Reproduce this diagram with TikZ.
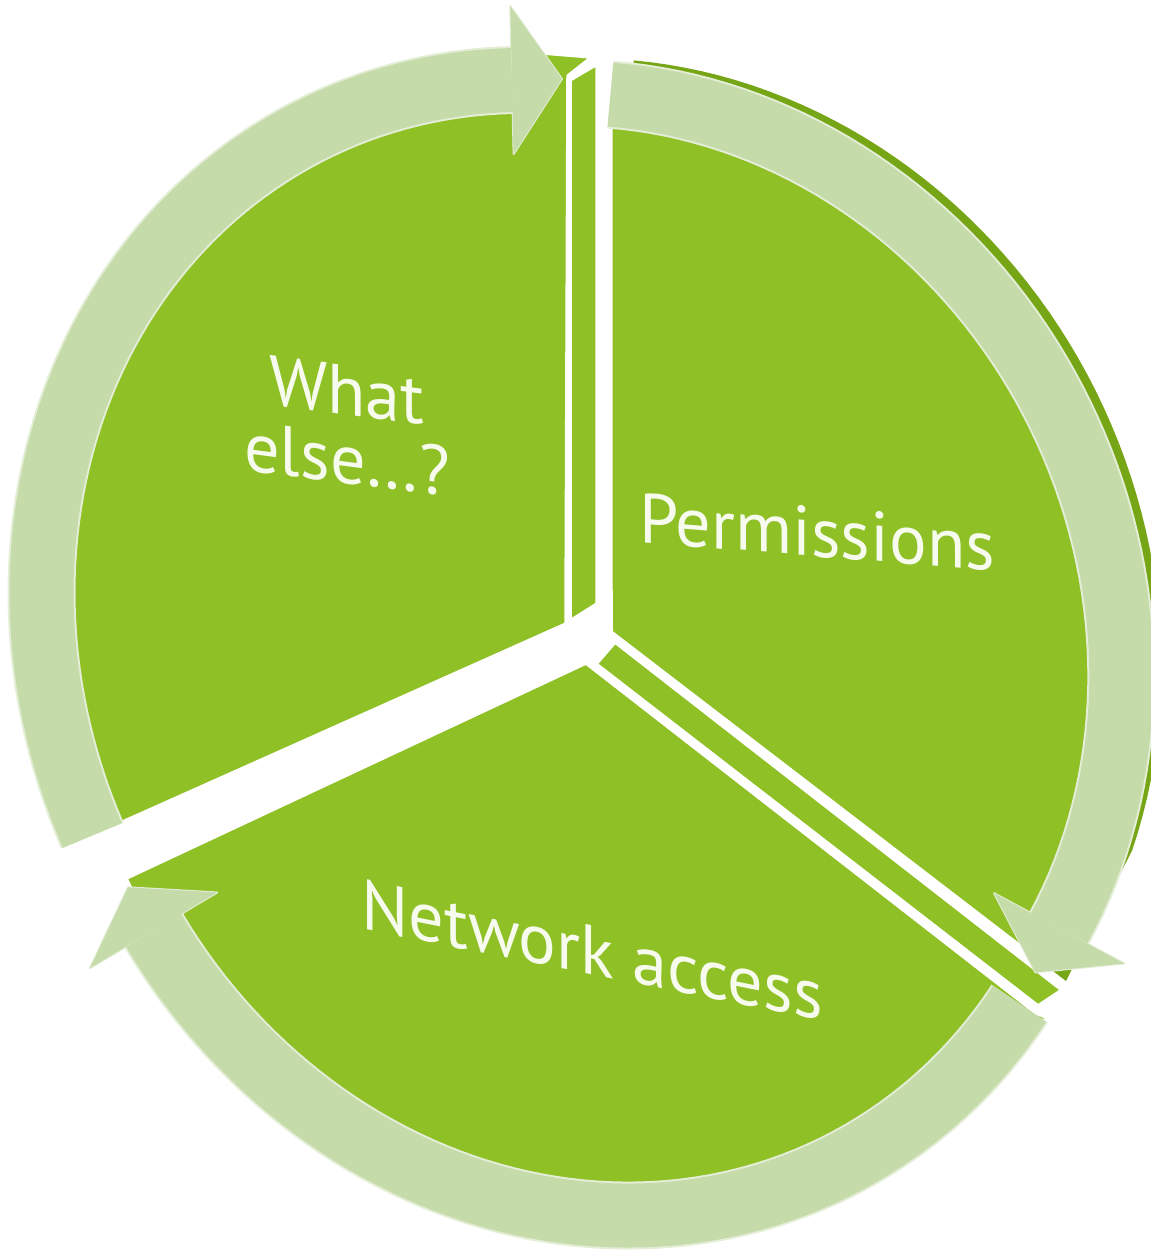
\documentclass[tikz,border=0pt]{standalone}
\usepackage{fontspec}
\setmainfont{PT Sans}
\definecolor{piegreen}{RGB}{143,192,38}
\definecolor{rimgreen}{RGB}{118,166,22}
\definecolor{ringgreen}{RGB}{197,220,170}
\definecolor{ringpale}{RGB}{228,238,215}
\definecolor{labelwhite}{RGB}{247,251,238}
\tikzset{
  slice/.style={fill=piegreen, draw=white, line width=0.07cm, line join=round},
  ring/.style={draw=ringgreen, line width=1.28cm, preaction={draw=ringpale, line width=1.36cm}},
  headdraw/.style={fill=ringgreen, draw=ringpale, line width=0.04cm, line join=round},
  slicetext/.style={text=labelwhite, font=\fontsize{40}{39}\selectfont, align=center, inner sep=0pt}
}
\begin{document}
\begin{tikzpicture}[x=0.02cm, y=-0.02cm,
    declare function={ox(\a)=250.3*cos(\a)-455*sin(\a); oy(\a)=504.3*cos(\a)+225.9*sin(\a);
                      tx(\a)=-2.503*sin(\a)-4.55*cos(\a); ty(\a)=-5.043*sin(\a)+2.259*cos(\a);}]
  \useasboundingbox (0,0) rectangle (1151,1253);
  % slice corners
    \coordinate (W0) at (566,624); % what else
    \coordinate (P0) at (611,632); % permissions
    \coordinate (N0) at (586,663); % network access

  % dark rim of the right slice
  \fill[rimgreen] (P0) -- plot[domain=209:318, samples=60, variable=\t] ({632+1.02*ox(\t)},{622+1.02*oy(\t)})
      -- (1066,981) -- cycle;

  % slices
  \draw[slice] (W0) -- plot[domain=93.4:202.9, samples=60, variable=\t] ({566+1.01*ox(\t)},{638+1.01*oy(\t)})
      -- (530,52) -- (592,57) -- (568,76) -- cycle;
  \draw[slice] (P0) -- plot[domain=208.8:331.5, samples=60, variable=\t] ({611+ox(\t)},{632+oy(\t)}) -- cycle;
  \draw[slice] (N0) -- (1036,1013) -- (1058,1022) -- plot[domain=-26:91.2, samples=60, variable=\t]
      ({586+ox(\t)},{663+oy(\t)}) -- cycle;

  % side faces
  \draw[slice] (570,80) -- (597,64) -- (597,604) -- (570,621) -- cycle;
  \draw[slice] (615,642) -- (1062,990) -- (1038,1006) -- (596,664) -- cycle;

  % cycle arrows
  \foreach \cx/\cy/\s/\ta/\tb in {566/638/1.01/93.4/202.9, 615/632/0.975/208.3/327.5, 586/663/1/-27.8/85.2}{
    \pgfmathsetmacro\ex{\cx+\s*ox(\tb)}
    \pgfmathsetmacro\ey{\cy+\s*oy(\tb)}
    \pgfmathsetmacro\ux{tx(\tb)/veclen(tx(\tb),ty(\tb))}
    \pgfmathsetmacro\uy{ty(\tb)/veclen(tx(\tb),ty(\tb))}
    \coordinate (tip) at ({\ex+50*\ux},{\ey+50*\uy});
    \coordinate (ca) at ({\ex-74*\uy},{\ey+74*\ux});
    \coordinate (cb) at ({\ex+74*\uy},{\ey-74*\ux});
    \filldraw[headdraw] (ca) -- (tip) -- (cb) -- cycle;
    \draw[ring] plot[domain=\ta:\tb, samples=70, variable=\t] ({\cx+\s*ox(\t)},{\cy+\s*oy(\t)});
    \fill[ringgreen] (ca) -- (tip) -- (cb) -- cycle;
  }

  % labels
  \node[slicetext, yslant=-0.13] (whatelse) at (347,425) {What\\else…?};
  \node[slicetext, yslant=-0.08] (permissions) at (817,532) {Permissions};
  \node[slicetext, yslant=-0.2] (network) at (592,950) {Network access};
\end{tikzpicture}
\end{document}
